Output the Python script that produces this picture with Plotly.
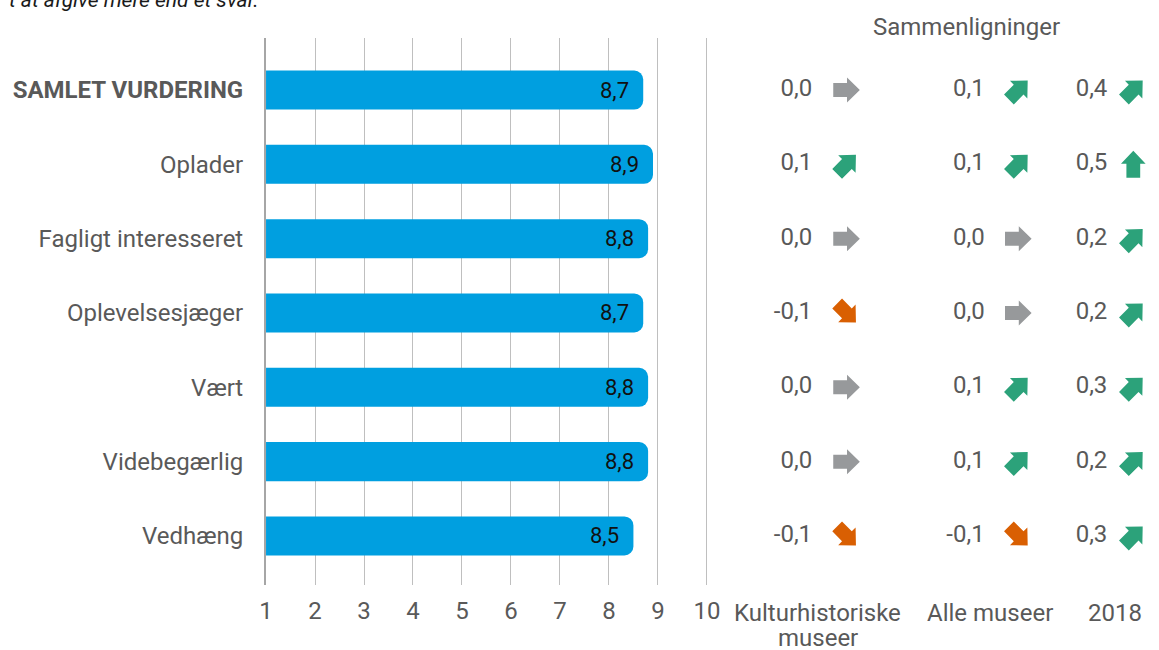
import math
import plotly.graph_objects as go

# ---- data -------------------------------------------------------------
categories = ["SAMLET VURDERING", "Oplader", "Fagligt interesseret",
              "Oplevelsesjæger", "Vært", "Videbegærlig", "Vedhæng"]
scores = [8.7, 8.9, 8.8, 8.7, 8.8, 8.8, 8.5]

comp_labels = ["Kulturhistoriske<br>museer", "Alle museer", "2018"]
diff_kultur = [0.0, 0.1, 0.0, -0.1, 0.0, 0.0, -0.1]
diff_alle = [0.1, 0.1, 0.0, 0.0, 0.1, 0.1, -0.1]
diff_2018 = [0.4, 0.5, 0.2, 0.2, 0.3, 0.2, 0.3]
comparisons = [diff_kultur, diff_alle, diff_2018]

x_ticks = list(range(1, 11))

# ---- layout constants -------------------------------------------------
W, H = 1159, 650
FONT = "Roboto, 'Open Sans', sans-serif"
TXT = "#595959"
BLUE = "#009fe0"
GREEN = "#2ca27a"
ORANGE = "#d95f02"
GREY = "#97999b"
FS = 24


def sx(p):
    # target screen x (px) -> layout x (px); the capture squeezes x slightly
    return (p - 2.8) / 0.987


# value axis: 1 at 262.5 px, 10 at 704.5 px; range a bit past 10 so its gridline shows
X_LEFT = sx(262.5)
PX_PER_UNIT = (sx(704.5) - sx(262.5)) / 9
X_MAX = 10.05
X_DOM = [X_LEFT / W, (X_LEFT + (X_MAX - 1) * PX_PER_UNIT) / W]

Y_DOM = [(H - 585) / H, (H - 38) / H]
Y_RANGE = [6.66, -0.70]
PX_PER_ROW = (Y_DOM[1] - Y_DOM[0]) * H / (Y_RANGE[0] - Y_RANGE[1])

X2_DOM = [0.62, 1.0]
X2_RANGE = [X2_DOM[0] * W, X2_DOM[1] * W]  # 1 unit == 1 layout px
VAL_X = [sx(p) for p in (810, 983, 1106)]
ARR_X = [sx(p) for p in (844.5, 1016.7, 1132)]
LABEL_X = [sx(p) for p in (815.5, 988.5, 1114)]
TITLE_X = sx(965)

rows = list(range(len(categories)))


def fmt(v):
    return f"{v:.1f}".replace(".", ",")


def arrow_style(v):
    if v == 0:
        return 0, GREY
    if v > 0:
        return (90 if v >= 0.5 else 45), GREEN
    return (-90 if v <= -0.5 else -45), ORANGE


# block arrow pointing right, in px, y up
ARROW = [(13.5, 0), (0.5, 12.5), (0.5, 7), (-13.5, 7), (-13.5, -7), (0.5, -7), (0.5, -12.5), (13.5, 0)]


def arrow_xy(cx, row, angle):
    a = math.radians(angle)
    xs, ys = [], []
    for px, py in ARROW:
        rx = px * math.cos(a) - py * math.sin(a)
        ry = px * math.sin(a) + py * math.cos(a)
        xs.append(cx + rx)
        ys.append(row - ry / PX_PER_ROW)
    return xs, ys


fig = go.Figure()

fig.add_trace(go.Bar(
    x=scores, y=rows, orientation="h",
    width=0.525,
    marker=dict(color=BLUE, cornerradius=9, line=dict(width=0)),
    hoverinfo="skip", showlegend=False,
))

annotations = []
for r, s in zip(rows, scores):
    annotations.append(dict(
        x=s, y=r, xref="x", yref="y", text=fmt(s), showarrow=False,
        xanchor="right", xshift=-12, font=dict(size=22, color="#111111", family=FONT),
    ))

# comparison columns
for ci, diffs in enumerate(comparisons):
    fig.add_trace(go.Scatter(
        x=[VAL_X[ci]] * len(rows), y=rows, xaxis="x2", yaxis="y",
        mode="text", text=[fmt(v) for v in diffs], textposition="middle left",
        textfont=dict(size=FS, color=TXT, family=FONT),
        hoverinfo="skip", showlegend=False,
    ))
    for r, v in zip(rows, diffs):
        angle, color = arrow_style(v)
        xs, ys = arrow_xy(ARR_X[ci], r, angle)
        fig.add_trace(go.Scatter(
            x=xs, y=ys, xaxis="x2", yaxis="y", mode="lines",
            fill="toself", fillcolor=color, line=dict(width=0, color=color),
            hoverinfo="skip", showlegend=False,
        ))
    # column label, one annotation per line for tight line spacing
    for li, line in enumerate(comp_labels[ci].split("<br>")):
        annotations.append(dict(
            x=LABEL_X[ci] / W, y=1 - (613 + 25 * li) / H, xref="paper", yref="paper",
            text=line, showarrow=False, xanchor="center", yanchor="middle",
            font=dict(size=FS, color=TXT, family=FONT),
        ))

annotations.append(dict(
    x=TITLE_X / W, y=1 - 27 / H, xref="paper", yref="paper", text="Sammenligninger",
    showarrow=False, xanchor="center", yanchor="middle",
    font=dict(size=FS, color=TXT, family=FONT),
))
annotations.append(dict(
    x=0, y=1, xref="paper", yref="paper", text="<i>t at afgive mere end et svar.</i>",
    showarrow=False, xanchor="left", yanchor="middle",
    font=dict(size=21, color="#1a1a1a", family=FONT),
))

fig.update_layout(
    width=W, height=H,
    margin=dict(l=0, r=0, t=0, b=0),
    paper_bgcolor="white", plot_bgcolor="white",
    font=dict(family=FONT, size=FS, color=TXT),
    showlegend=False,
    annotations=annotations,
    xaxis=dict(
        domain=X_DOM, range=[1, X_MAX], tickvals=x_ticks, ticktext=[str(t) for t in x_ticks],
        showgrid=True, gridcolor="#bfbfbf", gridwidth=1, zeroline=False,
        showline=False, ticks="", ticklabelstandoff=9,
        tickfont=dict(size=FS, color=TXT, family=FONT), fixedrange=True,
    ),
    xaxis2=dict(
        domain=X2_DOM, range=X2_RANGE, anchor="y", showticklabels=False,
        showgrid=False, zeroline=False, showline=False, ticks="", fixedrange=True,
    ),
    yaxis=dict(
        domain=Y_DOM, range=Y_RANGE, tickvals=rows,
        ticktext=[f"<b>{c}</b>" if i == 0 else c for i, c in enumerate(categories)],
        showgrid=False, zeroline=False, showline=True, linecolor="#a6a6a6", linewidth=2,
        ticks="", ticklabelstandoff=16,
        tickfont=dict(size=FS, color=TXT, family=FONT), fixedrange=True,
    ),
)

fig.write_html(
    "out.html",
    config={"displayModeBar": False},
    post_script="document.body.style.margin = '0'; document.body.style.overflow = 'hidden';",
)
